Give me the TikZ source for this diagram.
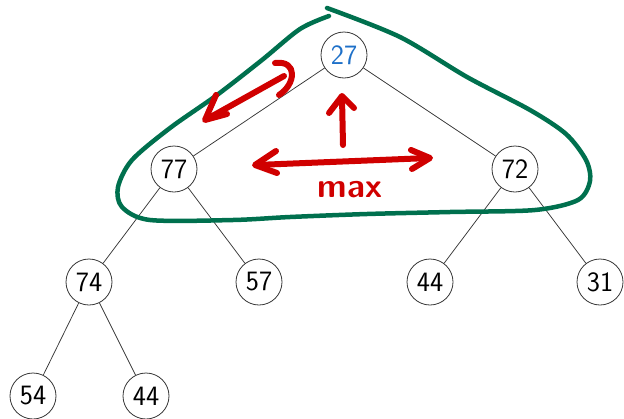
\documentclass[tikz,border=0pt]{standalone}
\usepackage{xcolor}
\definecolor{loopgreen}{RGB}{0,112,78}
\definecolor{inkred}{RGB}{208,0,0}
\definecolor{rootblue}{RGB}{30,112,200}
\definecolor{linegray}{RGB}{55,55,55}
\begin{document}
\begin{tikzpicture}[x=1pt,y=-1pt,
  heapnode/.style={circle,draw=linegray,line width=0.8pt,minimum size=46pt,inner sep=0pt,
    font=\fontsize{28}{32}\selectfont\sffamily},
  treeedge/.style={draw=linegray,line width=0.75pt},
  greenink/.style={draw=loopgreen,line width=4.5pt,line cap=round,line join=round},
  redink/.style={draw=inkred,line width=6pt,line cap=round,line join=round}]
\useasboundingbox (0,0) rectangle (624,418);
% nodes
\node[heapnode,text=rootblue] (n27) at (344,55) {27};
\node[heapnode] (n77) at (174,169) {77};
\node[heapnode] (n72) at (515,169) {72};
\node[heapnode] (n74) at (89,282) {74};
\node[heapnode] (n57) at (259,282) {57};
\node[heapnode] (n44a) at (430,282) {44};
\node[heapnode] (n31) at (600,282) {31};
\node[heapnode] (n54) at (33,396) {54};
\node[heapnode] (n44b) at (146,396) {44};
% edges
\draw[treeedge] (n27) -- (n77);
\draw[treeedge] (n27) -- (n72);
\draw[treeedge] (n77) -- (n74);
\draw[treeedge] (n77) -- (n57);
\draw[treeedge] (n72) -- (n44a);
\draw[treeedge] (n72) -- (n31);
\draw[treeedge] (n74) -- (n54);
\draw[treeedge] (n74) -- (n44b);
% green loop
\draw[greenink] plot[smooth,tension=0.5] coordinates {
  (327,8) (400,37) (467,77) (530,110) (566,134) (586,160) (590,181) (578,200)
  (535,210) (450,212) (367,214) (290,217) (233,220) (150,220) (122,207)
  (118,187) (132,160) (170,128) (217,95) (262,60) (300,29) (329,16)};
% red arrow along left edge
\draw[redink] (207,119) -- (284,76);
\draw[redink] (216,95) -- (205,120) -- (227,114);
\draw[redink] (275,63) .. controls (298,60) and (296,84) .. (279,95);
% up arrow
\draw[redink] (343,145) -- (342,97);
\draw[redink] (329,113) -- (342,96) -- (354,108);
% horizontal double arrow
\draw[redink] (256,165) -- (429,158);
\draw[redink] (276,151) -- (255,165) -- (277,173);
\draw[redink] (411,150) -- (430,158) -- (412,169);
% max
\node[text=inkred,font=\fontsize{34}{38}\selectfont\sffamily\bfseries,inner sep=0pt] (maxlabel) at (350,190) {max};
\end{tikzpicture}
\end{document}
